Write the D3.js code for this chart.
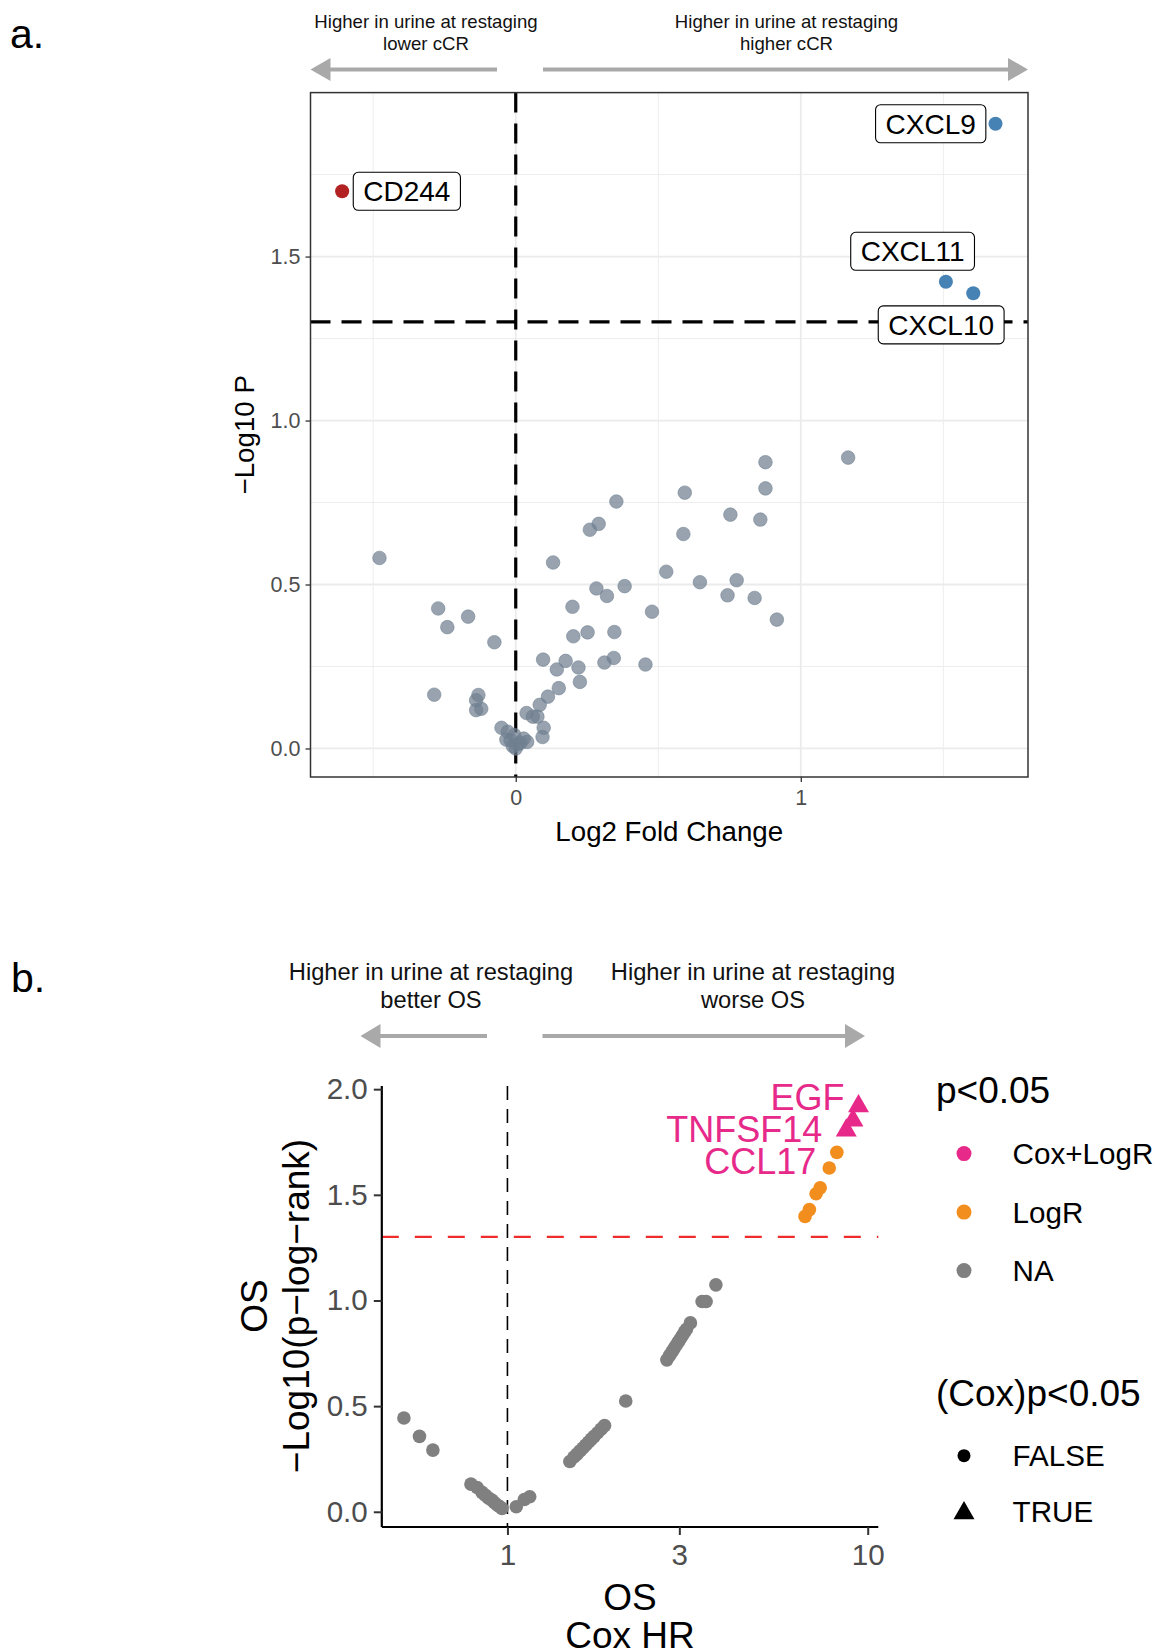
<!DOCTYPE html>
<html><head><meta charset="utf-8">
<script src="https://cdn.jsdelivr.net/npm/d3@7"></script>
<style>
body{margin:0;background:#fff;}
svg{display:block;font-family:"Liberation Sans",Arial,Helvetica,sans-serif;}
</style>
</head><body>
<svg id="chart" width="1160" height="1650"></svg>
<script>
// ---------------- Panel a data (volcano: log2 fold change vs -log10 P) ----------------
const aLabelGenes      = ["CD244", "CXCL9", "CXCL11", "CXCL10"];
const aLabelLog2FC     = [-0.609, 1.683, 1.509, 1.605];
const aLabelNegLog10P  = [1.699, 1.905, 1.423, 1.388];
const aLabelDirection  = ["lower", "higher", "higher", "higher"];

const aOtherLog2FC = [1.166,0.876,0.876,0.593,0.353,0.753,0.858,0.291,0.260,0.588,-0.478,0.131,0.528,0.646,0.775,0.382,0.283,0.320,0.743,0.838,0.199,-0.272,-0.167,0.478,0.916,-0.240,0.252,0.346,0.202,-0.075,0.096,0.175,0.344,0.311,0.455,0.220,0.144,0.225,0.151,-0.286,-0.131,-0.139,0.113,0.084,-0.139,-0.121,0.038,0.060,0.076,0.098,0.094,-0.050,-0.028,-0.005,-0.033,-0.010,0.007,0.028,0.040,0.017,-0.018,0.000];
const aOtherNegLog10P = [0.887,0.873,0.793,0.780,0.753,0.713,0.698,0.685,0.667,0.654,0.581,0.567,0.539,0.507,0.513,0.495,0.488,0.465,0.467,0.459,0.432,0.427,0.402,0.417,0.393,0.370,0.354,0.355,0.342,0.324,0.271,0.267,0.276,0.262,0.256,0.247,0.241,0.203,0.184,0.164,0.163,0.147,0.158,0.133,0.117,0.121,0.108,0.097,0.097,0.063,0.035,0.063,0.051,0.041,0.027,0.007,0.013,0.030,0.020,0.017,0.025,0.000];

const aXTicks = [0, 1];
const aYTicks = [0, 0.5, 1.0, 1.5];
const aXMinor = [-0.5, 0.5, 1.5];
const aYMinor = [0.25, 0.75, 1.25, 1.75];
const aPThreshold = 1.301; // -log10(0.05)

// ---------------- Panel b data (OS: Cox HR vs -log10 log-rank p) ----------------
const bHR = [0.516,0.570,0.621,0.792,0.824,0.850,0.867,0.885,0.905,0.920,0.937,0.953,0.966,
             1.058,1.114,1.153,
             1.49,1.53,1.56,1.59,1.62,1.65,1.68,1.71,1.74,1.78,1.82,1.86,
             2.13,
             2.77,2.82,2.86,2.90,2.94,2.98,3.02,3.06,3.10,3.14,3.22,
             3.47,3.56,3.79,
             6.70,6.89,7.19,7.38,7.82,8.21,
             8.72,9.10,9.43];
const bNegLog10P = [0.444,0.357,0.292,0.131,0.115,0.092,0.079,0.066,0.055,0.044,0.032,0.024,0.016,
             0.024,0.058,0.071,
             0.238,0.259,0.273,0.288,0.302,0.316,0.330,0.344,0.357,0.374,0.391,0.408,
             0.524,
             0.719,0.740,0.756,0.772,0.788,0.804,0.819,0.834,0.850,0.864,0.894,
             0.995,0.995,1.074,
             1.398,1.430,1.505,1.533,1.627,1.701,
             1.812,1.859,1.927];
const bGroup = [].concat(Array(43).fill("NA"), Array(6).fill("LogR"), Array(3).fill("Cox+LogR"));
const bCoxSig = [].concat(Array(49).fill(false), Array(3).fill(true));
const bLabelGenes = ["CCL17", "TNFSF14", "EGF"];
const bLabelHR = [8.72, 9.10, 9.43];
const bLabelNegLog10P = [1.812, 1.859, 1.927];

const bXTicks = [1, 3, 10];
const bYTicks = [0, 0.5, 1.0, 1.5, 2.0];
const bGroupNames = ["Cox+LogR", "LogR", "NA"];
const bGroupColors = ["#E7298A", "#F28E1E", "#808080"];
const bShapeNames = ["FALSE", "TRUE"];

// ---------------- drawing ----------------
const svg = d3.select("#chart");
svg.append("rect").attr("width",1160).attr("height",1650).attr("fill","#fff");

function arrow(g, x1, x2, y, w, headLen, headH, color){
  const dir = Math.sign(x2 - x1);
  g.append("line").attr("x1", x1).attr("x2", x2 - dir*headLen*0.8).attr("y1", y).attr("y2", y)
    .attr("stroke", color).attr("stroke-width", w);
  g.append("path").attr("d", `M${x2},${y} L${x2 - dir*headLen},${y - headH/2} L${x2 - dir*headLen},${y + headH/2} Z`)
    .attr("fill", color);
}

// ===== Panel a =====
const A = {left:310.5, right:1028, top:92.6, bottom:777};
const xA = d3.scaleLinear().domain([-0.72, 1.797]).range([A.left, A.right]);
const yA = d3.scaleLinear().domain([-0.087, 2.0]).range([A.bottom, A.top]);
const ga = svg.append("g");

ga.append("text").attr("x", 10).attr("y", 48).attr("font-size", 41).text("a.");

const hdrA = ga.append("g").attr("font-size", 18.6).attr("text-anchor","middle").attr("fill","#111");
hdrA.append("text").attr("x", 426).attr("y", 27.5).text("Higher in urine at restaging");
hdrA.append("text").attr("x", 426).attr("y", 49.7).text("lower cCR");
hdrA.append("text").attr("x", 786.5).attr("y", 27.5).text("Higher in urine at restaging");
hdrA.append("text").attr("x", 786.5).attr("y", 49.7).text("higher cCR");
arrow(ga, 497, 310.5, 69.5, 4, 20, 23, "#a9a9a9");
arrow(ga, 543, 1028, 69.5, 4, 20, 23, "#a9a9a9");

// grid
ga.append("g").selectAll("line").data(aXMinor).join("line")
  .attr("x1", d=>xA(d)).attr("x2", d=>xA(d)).attr("y1", A.top).attr("y2", A.bottom)
  .attr("stroke","#ebebeb").attr("stroke-width",0.9);
ga.append("g").selectAll("line").data(aYMinor).join("line")
  .attr("y1", d=>yA(d)).attr("y2", d=>yA(d)).attr("x1", A.left).attr("x2", A.right)
  .attr("stroke","#ebebeb").attr("stroke-width",0.9);
ga.append("g").selectAll("line").data(aXTicks).join("line")
  .attr("x1", d=>xA(d)).attr("x2", d=>xA(d)).attr("y1", A.top).attr("y2", A.bottom)
  .attr("stroke","#ebebeb").attr("stroke-width",1.8);
ga.append("g").selectAll("line").data(aYTicks).join("line")
  .attr("y1", d=>yA(d)).attr("y2", d=>yA(d)).attr("x1", A.left).attr("x2", A.right)
  .attr("stroke","#ebebeb").attr("stroke-width",1.8);

// threshold lines
ga.append("line").attr("x1", xA(0)).attr("x2", xA(0)).attr("y1", A.top).attr("y2", A.bottom)
  .attr("stroke","#000").attr("stroke-width",3.2).attr("stroke-dasharray","20,11");
ga.append("line").attr("x1", A.left).attr("x2", A.right).attr("y1", yA(aPThreshold)).attr("y2", yA(aPThreshold))
  .attr("stroke","#000").attr("stroke-width",3.2).attr("stroke-dasharray","20,11");

// other points
ga.append("g").selectAll("circle").data(aOtherLog2FC.map((v,i)=>[v, aOtherNegLog10P[i]])).join("circle")
  .attr("cx", d=>xA(d[0])).attr("cy", d=>yA(d[1])).attr("r", 6.8)
  .attr("fill","#708090").attr("fill-opacity",0.72)
  .attr("stroke","#708090").attr("stroke-opacity",0.55).attr("stroke-width",1);

// labeled points
const dirColor = {lower:"#B22222", higher:"#4682B4"};
ga.append("g").selectAll("circle").data(aLabelGenes.map((g,i)=>({g, x:aLabelLog2FC[i], y:aLabelNegLog10P[i], d:aLabelDirection[i]}))).join("circle")
  .attr("cx", d=>xA(d.x)).attr("cy", d=>yA(d.y)).attr("r", 7).attr("fill", d=>dirColor[d.d]);

// label boxes (repelled positions as pixel offsets from the points)
const aLabelOffsets = {CD244:[64.7,0], CXCL9:[-64.8,0], CXCL11:[-33.3,-30.5], CXCL10:[-32.1,31.6]};
aLabelGenes.forEach((g,i)=>{
  const cx = xA(aLabelLog2FC[i]) + aLabelOffsets[g][0];
  const cy = yA(aLabelNegLog10P[i]) + aLabelOffsets[g][1];
  const lg = ga.append("g");
  const rect = lg.append("rect");
  const t = lg.append("text").attr("x", cx).attr("y", cy + 9.8).attr("text-anchor","middle")
    .attr("font-size", 28).attr("fill","#000").text(g);
  const w = t.node().getComputedTextLength() + 20;
  rect.attr("x", cx - w/2).attr("y", cy - 19).attr("width", w).attr("height", 38)
    .attr("rx", 5).attr("fill","#fff").attr("stroke","#000").attr("stroke-width",1.1);
});

// border
ga.append("rect").attr("x", A.left).attr("y", A.top).attr("width", A.right-A.left).attr("height", A.bottom-A.top)
  .attr("fill","none").attr("stroke","#333").attr("stroke-width",1.5);

// axes
const axA_y = ga.append("g").attr("transform", `translate(${A.left},0)`)
  .call(d3.axisLeft(yA).tickValues(aYTicks).tickFormat(d3.format(".1f")).tickSize(5).tickPadding(5));
const axA_x = ga.append("g").attr("transform", `translate(0,${A.bottom})`)
  .call(d3.axisBottom(xA).tickValues(aXTicks).tickFormat(d3.format("d")).tickSize(5).tickPadding(8));
[axA_y, axA_x].forEach(ax=>{
  ax.select(".domain").remove();
  ax.selectAll(".tick line").attr("stroke","#333").attr("stroke-width",1.3);
  ax.selectAll(".tick text").attr("fill","#4d4d4d").attr("font-size",21.5).attr("font-family",null);
});
ga.append("text").attr("x", (A.left+A.right)/2).attr("y", 840.5).attr("text-anchor","middle")
  .attr("font-size",27.7).text("Log2 Fold Change");
ga.append("text").attr("transform", `translate(253.5,${(A.top+A.bottom)/2}) rotate(-90)`).attr("text-anchor","middle")
  .attr("font-size",27.7).text("−Log10 P");

// ===== Panel b =====
const B = {left:381.8, right:878.3, top:1086, bottom:1527};
const xB = d3.scaleLog().domain([0.448, 10.7]).range([B.left, B.right]);
const yB = d3.scaleLinear().domain([-0.072, 2.015]).range([B.bottom, B.top]);
const gb = svg.append("g");

gb.append("text").attr("x", 11).attr("y", 992).attr("font-size", 41).text("b.");

const hdrB = gb.append("g").attr("font-size", 23.7).attr("text-anchor","middle").attr("fill","#111");
hdrB.append("text").attr("x", 431).attr("y", 980).text("Higher in urine at restaging");
hdrB.append("text").attr("x", 431).attr("y", 1007.5).text("better OS");
hdrB.append("text").attr("x", 753).attr("y", 980).text("Higher in urine at restaging");
hdrB.append("text").attr("x", 753).attr("y", 1007.5).text("worse OS");
arrow(gb, 487, 360.5, 1036, 4, 20, 24, "#a9a9a9");
arrow(gb, 542.5, 865, 1036, 4, 20, 24, "#a9a9a9");

// reference lines
gb.append("line").attr("x1", xB(1)).attr("x2", xB(1)).attr("y1", B.top).attr("y2", B.bottom)
  .attr("stroke","#000").attr("stroke-width",1.6).attr("stroke-dasharray","14,9");
gb.append("line").attr("x1", B.left).attr("x2", B.right).attr("y1", yB(aPThreshold)).attr("y2", yB(aPThreshold))
  .attr("stroke","#EE2C2C").attr("stroke-width",2.4).attr("stroke-dasharray","17,16");

const colorB = d3.scaleOrdinal().domain(bGroupNames).range(bGroupColors);
const triPath = d3.symbol().type(d3.symbolTriangle).size(190);
const bPts = bHR.map((h,i)=>({h, p:bNegLog10P[i], g:bGroup[i], t:bCoxSig[i]}));
const order = ["NA","LogR","Cox+LogR"];
order.forEach(grp=>{
  const sub = bPts.filter(d=>d.g===grp);
  gb.append("g").selectAll("circle").data(sub.filter(d=>!d.t)).join("circle")
    .attr("cx", d=>xB(d.h)).attr("cy", d=>yB(d.p)).attr("r", 6.8).attr("fill", d=>colorB(d.g));
  gb.append("g").selectAll("path").data(sub.filter(d=>d.t)).join("path")
    .attr("d", triPath).attr("transform", d=>`translate(${xB(d.h)},${yB(d.p)+1.5})`).attr("fill", d=>colorB(d.g));
});

// labels (repelled positions as pixel offsets; text right-aligned)
const bLabelOffsets = {EGF:[-14,5.5], TNFSF14:[-30.7,23.5], CCL17:[-30,45]};
bLabelGenes.forEach((g,i)=>{
  gb.append("text").attr("x", xB(bLabelHR[i]) + bLabelOffsets[g][0]).attr("y", yB(bLabelNegLog10P[i]) + bLabelOffsets[g][1])
    .attr("text-anchor","end").attr("font-size",36).attr("fill", colorB("Cox+LogR")).text(g);
});

// axes
const axB_y = gb.append("g").attr("transform", `translate(${B.left},0)`)
  .call(d3.axisLeft(yB).tickValues(bYTicks).tickFormat(d3.format(".1f")).tickSize(8).tickPadding(6));
const axB_x = gb.append("g").attr("transform", `translate(0,${B.bottom})`)
  .call(d3.axisBottom(xB).tickValues(bXTicks).tickFormat(d3.format("d")).tickSize(8).tickPadding(9));
[axB_y, axB_x].forEach(ax=>{
  ax.select(".domain").attr("stroke","#000").attr("stroke-width",2.2);
  ax.selectAll(".tick line").attr("stroke","#333").attr("stroke-width",2);
  ax.selectAll(".tick text").attr("fill","#4d4d4d").attr("font-size",29.6).attr("font-family",null);
});
axB_y.select(".domain").attr("d", `M0,${B.top}V${B.bottom}`);
axB_x.select(".domain").attr("d", `M${B.left},0H${B.right}`);

gb.append("text").attr("x", 630).attr("y", 1610).attr("text-anchor","middle").attr("font-size",37).text("OS");
gb.append("text").attr("x", 630).attr("y", 1648).attr("text-anchor","middle").attr("font-size",37).text("Cox HR");
gb.append("text").attr("transform", `translate(266.5,1306) rotate(-90)`).attr("text-anchor","middle").attr("font-size",37).text("OS");
gb.append("text").attr("transform", `translate(308.5,1306) rotate(-90)`).attr("text-anchor","middle").attr("font-size",37).text("−Log10(p−log−rank)");

// legends
const lg1 = gb.append("g");
lg1.append("text").attr("x", 936).attr("y", 1102.5).attr("font-size",37).text("p<0.05");
bGroupNames.forEach((g,i)=>{
  const y = 1153.6 + i*58.5;
  lg1.append("circle").attr("cx", 964).attr("cy", y).attr("r", 7.5).attr("fill", colorB(g));
  lg1.append("text").attr("x", 1012.6).attr("y", y + 10.5).attr("font-size",29.6).text(g);
});
const lg2 = gb.append("g");
lg2.append("text").attr("x", 936).attr("y", 1405.5).attr("font-size",37).text("(Cox)p<0.05");
bShapeNames.forEach((s,i)=>{
  const y = 1455.7 + i*56;
  if (s === "FALSE") lg2.append("circle").attr("cx", 964).attr("cy", y).attr("r", 6.5).attr("fill","#000");
  else lg2.append("path").attr("d", triPath).attr("transform", `translate(964,${y+1.5})`).attr("fill","#000");
  lg2.append("text").attr("x", 1012.6).attr("y", y + 10.5).attr("font-size",29.6).text(s);
});
</script>
</body></html>
